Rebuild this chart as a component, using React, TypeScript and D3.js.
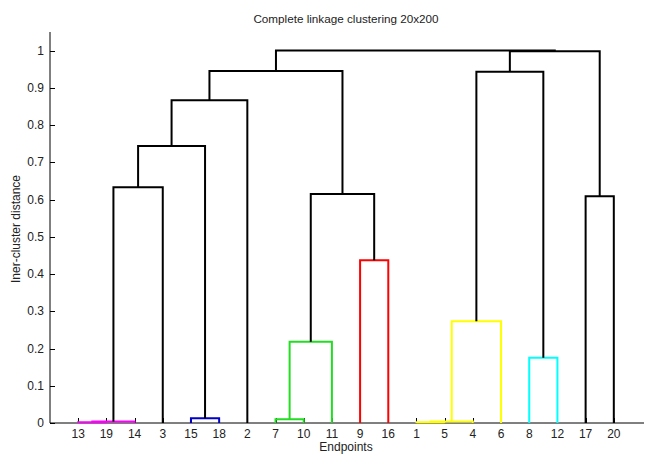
import { useEffect, useRef } from 'react';
import * as d3 from 'd3';

// linkage rows, MATLAB style: cluster id = 20 + row number
const leftIds = [13, 1, 21, 22, 7, 15, 8, 25, 24, 9, 17, 28, 23, 33, 34, 29, 35, 36, 37];
const rightIds = [19, 5, 14, 4, 10, 18, 12, 11, 6, 16, 20, 30, 3, 26, 2, 27, 32, 31, 38];
const heights = [0.002, 0.002, 0.004, 0.004, 0.01, 0.013, 0.175, 0.218, 0.273, 0.437, 0.609, 0.615, 0.633, 0.744, 0.867, 0.943, 0.945, 0.998, 1.0];
const linkColors = [
    '#ff00ff', '#ffff00', '#ff00ff', '#ffff00', '#22dd22', '#0000cc', '#00ffff',
    '#22dd22', '#ffff00', '#ff0000', '#000', '#000', '#000', '#000', '#000',
    '#000', '#000', '#000', '#000',
];
const yTicks = [0, 0.1, 0.2, 0.3, 0.4, 0.5, 0.6, 0.7, 0.8, 0.9, 1];
const nLeaves = 20;

const App = () => {
    const ref = useRef<SVGSVGElement>(null);
    const width = 646,
        height = 454;

    useEffect(() => {
        const svg = d3.select(ref.current).attr('width', width).attr('height', height);
        svg.selectAll('*').remove();

        // leaf order from the tree
        const order: number[] = [];
        const walk = (id: number) => {
            if (id <= nLeaves) {
                order.push(id);
                return;
            }
            walk(leftIds[id - nLeaves - 1]);
            walk(rightIds[id - nLeaves - 1]);
        };
        walk(nLeaves + heights.length);

        const x = d3.scaleLinear().domain([0, nLeaves + 1]).range([50, 642]);
        const y = d3.scaleLinear().domain([0, 1.05]).range([423, 32]);

        const pos: Record<number, number> = {};
        const h: Record<number, number> = {};
        order.forEach((id, i) => {
            pos[id] = x(i + 1);
            h[id] = 0;
        });

        const font = 'Arial, "Liberation Sans", sans-serif';
        const g = svg.append('g');

        // axes
        g.append('line').attr('x1', x(0)).attr('x2', x(0)).attr('y1', y(1.05)).attr('y2', y(0))
            .attr('stroke', '#000');
        g.append('line').attr('x1', x(0)).attr('x2', 644).attr('y1', y(0)).attr('y2', y(0))
            .attr('stroke', '#000');

        g.selectAll('.ytick')
            .data(yTicks)
            .enter()
            .append('line')
            .attr('x1', x(0))
            .attr('x2', x(0) + 5)
            .attr('y1', (d) => Math.round(y(d)) + 0.5)
            .attr('y2', (d) => Math.round(y(d)) + 0.5)
            .attr('stroke', '#000');

        g.selectAll('.ylab')
            .data(yTicks)
            .enter()
            .append('text')
            .attr('x', x(0) - 6)
            .attr('y', (d) => y(d) + 4)
            .attr('text-anchor', 'end')
            .attr('font-family', font)
            .attr('font-size', '12px')
            .attr('fill', '#222')
            .text((d) => String(d));

        g.selectAll('.xtick')
            .data(order)
            .enter()
            .append('line')
            .attr('x1', (d) => Math.round(pos[d]) + 0.5)
            .attr('x2', (d) => Math.round(pos[d]) + 0.5)
            .attr('y1', y(0))
            .attr('y2', y(0) - 5)
            .attr('stroke', '#000');

        g.selectAll('.xlab')
            .data(order)
            .enter()
            .append('text')
            .attr('x', (d) => pos[d])
            .attr('y', 438)
            .attr('text-anchor', 'middle')
            .attr('font-family', font)
            .attr('font-size', '12px')
            .attr('fill', '#222')
            .text((d) => String(d));

        // links
        heights.forEach((ht, i) => {
            const id = nLeaves + i + 1;
            const a = leftIds[i],
                b = rightIds[i];
            const path = d3.path();
            path.moveTo(pos[a], y(h[a]));
            path.lineTo(pos[a], y(ht));
            path.lineTo(pos[b], y(ht));
            path.lineTo(pos[b], y(h[b]));
            g.append('path')
                .attr('d', path.toString())
                .attr('fill', 'none')
                .attr('stroke', linkColors[i])
                .attr('stroke-width', 2);
            pos[id] = (pos[a] + pos[b]) / 2;
            h[id] = ht;
        });

        // texts
        svg.append('text')
            .attr('x', 346)
            .attr('y', 23)
            .attr('text-anchor', 'middle')
            .attr('font-family', font)
            .attr('font-size', '11.7px')
            .attr('fill', '#222')
            .text('Complete linkage clustering 20x200');

        svg.append('text')
            .attr('transform', `translate(20,229) rotate(-90)`)
            .attr('text-anchor', 'middle')
            .attr('font-family', font)
            .attr('font-size', '12px')
            .attr('fill', '#222')
            .text('Iner-cluster distance');

        svg.append('text')
            .attr('x', 346)
            .attr('y', 451)
            .attr('text-anchor', 'middle')
            .attr('font-family', font)
            .attr('font-size', '12px')
            .attr('fill', '#222')
            .text('Endpoints');
    }, []);

    return (
        <svg
            ref={ref}
            style={{ position: 'absolute', left: 0, top: 0, background: '#fff', display: 'block' }}
        ></svg>
    );
};

export default App;
